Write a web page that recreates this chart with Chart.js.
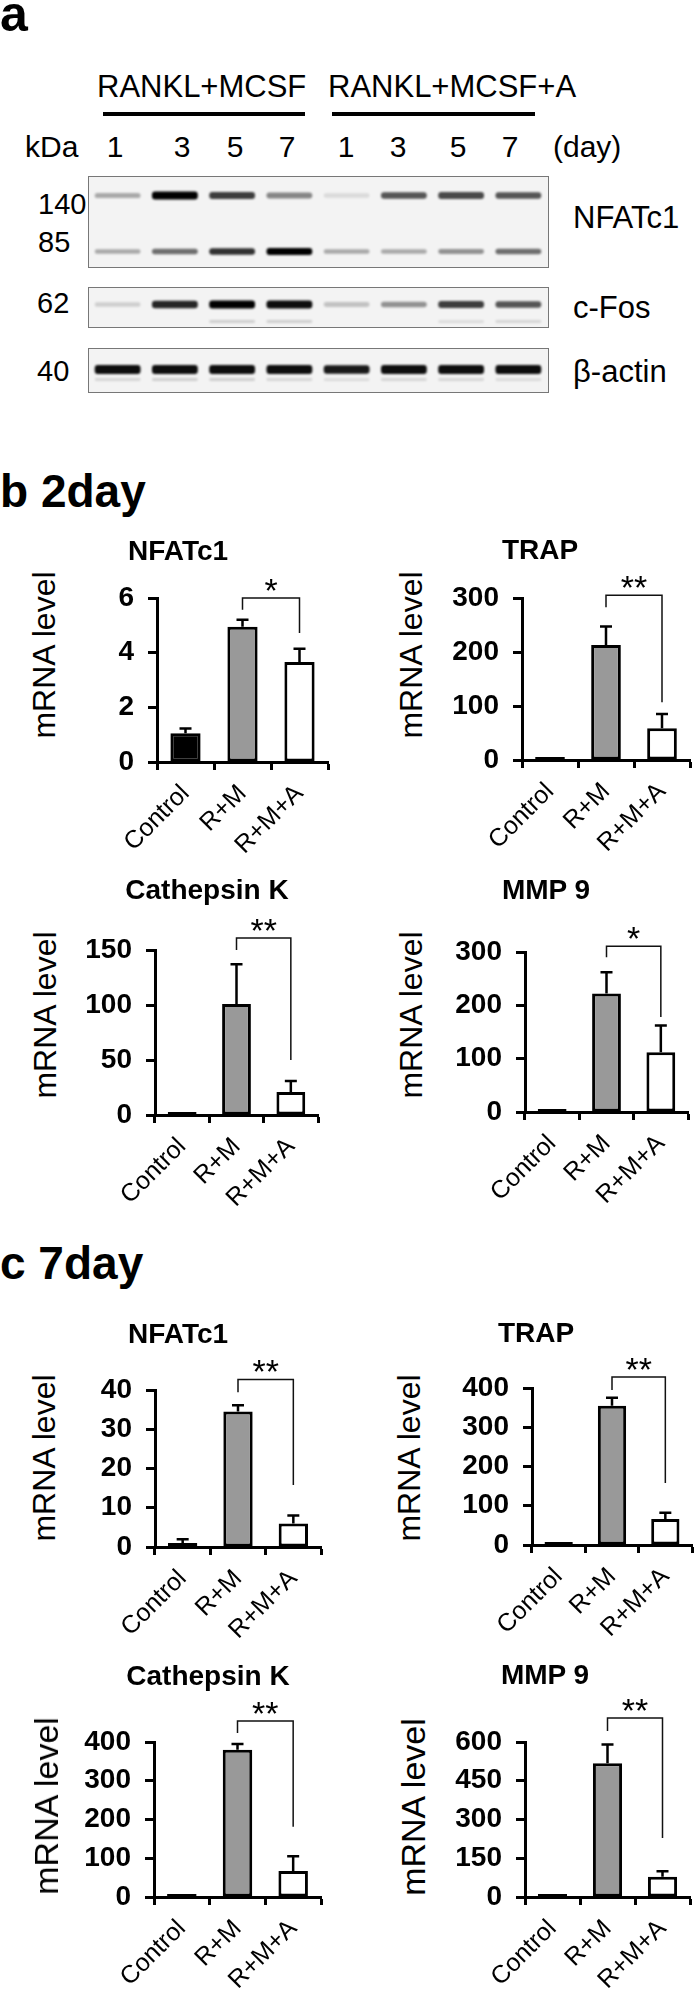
<!DOCTYPE html>
<html>
<head>
<meta charset="utf-8">
<script src="https://cdn.jsdelivr.net/npm/chart.js@4.4.0/dist/chart.umd.min.js"></script>
<style>
  body { margin: 0; background: #fff; }
  #fig { position: relative; width: 700px; height: 1991px; overflow: hidden;
         font-family: "Liberation Sans", Arial, sans-serif; color: #000; }
  .t { position: absolute; white-space: nowrap; line-height: 1; }
  .rule { position: absolute; background: #000; height: 4px; }
  .blot { position: absolute; left: 88px; width: 461px; border: 1.5px solid #777;
          background: #f3f3f3; box-sizing: border-box; overflow: hidden; }
  .blot canvas { position: absolute; left: 0; top: 0; }
  .ytitle { position: absolute; font-size: 32px; line-height: 1; white-space: nowrap;
            transform: translate(-50%, -50%) rotate(-90deg); }
  #fig > canvas { position: absolute; }
</style>
</head>
<body>
<div id="fig"></div>
<script>
// ---------- data ----------
// western blot: lanes (days) and band intensity 0..1
var lanes = ['1', '3', '5', '7', '1', '3', '5', '7'];
var nfat140 = [0.3, 1.0, 0.75, 0.45, 0.1, 0.65, 0.7, 0.65];
var nfat85 = [0.3, 0.55, 0.8, 1.0, 0.3, 0.3, 0.4, 0.55];
var cfos = [0.15, 0.85, 1.0, 0.95, 0.2, 0.4, 0.75, 0.65];
var cfosLow = [0, 0, 0.15, 0.15, 0, 0, 0.1, 0.12];
var actin = [0.95, 0.95, 0.95, 0.95, 0.9, 0.95, 0.95, 0.95];
var actinLow = [0.12, 0.15, 0.15, 0.12, 0.1, 0.12, 0.12, 0.1];

// qPCR bars
var groups = ['Control', 'R+M', 'R+M+A'];

var d2Nfatc1 = [1.05, 4.95, 3.66];
var d2Nfatc1Err = [0.18, 0.25, 0.48];
var d2Nfatc1Sig = [6.0, 5.57, 4.72];

var d2Trap = [1, 213, 59];
var d2TrapErr = [0, 34, 26];
var d2TrapSig = [305, 283, 107];

var d2Ctsk = [1, 101, 21];
var d2CtskErr = [0, 36, 10];
var d2CtskSig = [161, 150, 50];

var d2Mmp9 = [1, 222, 112];
var d2Mmp9Err = [0, 40, 50];
var d2Mmp9Sig = [311, 290, 178];

var d7Nfatc1 = [1.0, 34.5, 6.0];
var d7Nfatc1Err = [1.0, 1.6, 2.0];
var d7Nfatc1Sig = [42.7, 39.4, 15.8];

var d7Trap = [2, 355, 66];
var d7TrapErr = [0, 20, 16];
var d7TrapSig = [428, 395, 158];

var d7Ctsk = [2, 380, 67];
var d7CtskErr = [0, 15, 38];
var d7CtskSig = [454, 423, 181];

var d7Mmp9 = [2, 518, 78];
var d7Mmp9Err = [0, 72, 22];
var d7Mmp9Sig = [693, 643, 228];

// ---------- helpers ----------
var FONT = '"Liberation Sans", Arial, sans-serif';
var fig = document.getElementById('fig');

function addText(txt, x, base, size, bold, center) {
    var d = document.createElement('div');
    d.className = 't';
    d.textContent = txt;
    d.style.fontSize = size + 'px';
    if (bold) d.style.fontWeight = 'bold';
    d.style.top = (base - 0.847 * size) + 'px';
    d.style.left = x + 'px';
    if (center) d.style.transform = 'translateX(-50%)';
    fig.appendChild(d);
}

function addRule(x, y, w) {
    var d = document.createElement('div');
    d.className = 'rule';
    d.style.left = x + 'px';
    d.style.top = y + 'px';
    d.style.width = w + 'px';
    fig.appendChild(d);
}

function addYTitle(cx, cy, size) {
    var d = document.createElement('div');
    d.className = 'ytitle';
    d.textContent = 'mRNA level';
    d.style.left = cx + 'px';
    d.style.top = cy + 'px';
    if (size) d.style.fontSize = size + 'px';
    fig.appendChild(d);
}

// soft edges for blot bands
var blurBands = {
    id: 'blurBands',
    beforeDatasetsDraw: function(chart) {
        chart.ctx.save();
        chart.ctx.filter = 'blur(1.1px)';
    },
    afterDatasetsDraw: function(chart) {
        chart.ctx.restore();
    }
};

// one blot strip; bands = [{vals, pos, thick}] (pos in px from strip bottom)
function makeBlot(top, height, bands) {
    var box = document.createElement('div');
    box.className = 'blot';
    box.style.top = top + 'px';
    box.style.height = height + 'px';
    var cv = document.createElement('canvas');
    var w = 461 - 3, h = height - 3;
    cv.width = w; cv.height = h;
    box.appendChild(cv);
    fig.appendChild(box);

    var datasets = bands.map(function(b) {
        return {
            data: b.vals.map(function(v) {
                var t = b.thick * (0.5 + 0.5 * v);
                return [b.pos - t / 2, b.pos + t / 2];
            }),
            backgroundColor: b.vals.map(function(v) { return 'rgba(0,0,0,' + v + ')'; }),
            borderWidth: 0,
            borderRadius: 3,
            borderSkipped: false,
            grouped: false,
            barPercentage: 0.8,
            categoryPercentage: 1
        };
    });

    new Chart(cv, {
        type: 'bar',
        data: { labels: lanes, datasets: datasets },
        options: {
            responsive: false,
            animation: false,
            devicePixelRatio: 1,
            layout: { padding: 0 },
            plugins: { legend: { display: false }, tooltip: { enabled: false } },
            scales: {
                x: { display: false },
                y: { display: false, min: 0, max: h }
            }
        },
        plugins: [blurBands]
    });
}

// error bars (upward only)
var errorBars = {
    id: 'errorBars',
    afterDatasetsDraw: function(chart, args, opts) {
        var ctx = chart.ctx, y = chart.scales.y;
        var meta = chart.getDatasetMeta(0);
        var vals = chart.data.datasets[0].data;
        ctx.save();
        ctx.strokeStyle = '#000';
        ctx.lineWidth = 2.5;
        meta.data.forEach(function(bar, i) {
            var e = opts.errs[i];
            if (!e) return;
            var yTop = y.getPixelForValue(vals[i] + e);
            ctx.beginPath();
            ctx.moveTo(bar.x, bar.y);
            ctx.lineTo(bar.x, yTop);
            ctx.moveTo(bar.x - 6, yTop);
            ctx.lineTo(bar.x + 6, yTop);
            ctx.stroke();
        });
        ctx.restore();
    }
};

// significance bracket between R+M and R+M+A
var sigBracket = {
    id: 'sigBracket',
    afterDraw: function(chart, args, opts) {
        var ctx = chart.ctx, y = chart.scales.y;
        var meta = chart.getDatasetMeta(0);
        var x1 = meta.data[1].x, x2 = meta.data[2].x;
        var yT = y.getPixelForValue(opts.sig[0]);
        var yL = y.getPixelForValue(opts.sig[1]);
        var yR = y.getPixelForValue(opts.sig[2]);
        ctx.save();
        ctx.strokeStyle = '#111';
        ctx.lineWidth = 1.5;
        ctx.beginPath();
        ctx.moveTo(x1, yL);
        ctx.lineTo(x1, yT);
        ctx.lineTo(x2, yT);
        ctx.lineTo(x2, yR);
        ctx.stroke();
        ctx.fillStyle = '#000';
        ctx.font = '34px ' + FONT;
        ctx.textAlign = 'center';
        ctx.textBaseline = 'alphabetic';
        ctx.fillText(opts.label, (x1 + x2) / 2, yT + 4);
        ctx.restore();
    }
};

var PAD_TOP = 62, AXIS_W = 90, X_H = 120, PAD_R = 12;

function makeBarChart(c) {
    var cv = document.createElement('canvas');
    var w = c.right - c.left + AXIS_W + PAD_R;
    var h = c.bottom - c.top + PAD_TOP + X_H;
    cv.width = w; cv.height = h;
    cv.style.left = (c.left - AXIS_W) + 'px';
    cv.style.top = (c.top - PAD_TOP) + 'px';
    fig.appendChild(cv);

    new Chart(cv, {
        type: 'bar',
        data: {
            labels: groups,
            datasets: [{
                data: c.vals,
                backgroundColor: ['#000000', '#999999', '#ffffff'],
                borderColor: '#000',
                borderWidth: 3,
                borderSkipped: false,
                minBarLength: 3,
                barPercentage: 0.53,
                categoryPercentage: 1
            }]
        },
        options: {
            responsive: false,
            animation: false,
            devicePixelRatio: 1,
            layout: { padding: { top: PAD_TOP, right: PAD_R, left: 0, bottom: 0 } },
            plugins: {
                legend: { display: false },
                tooltip: { enabled: false },
                errorBars: { errs: c.errs },
                sigBracket: { sig: c.sig, label: c.label }
            },
            scales: {
                x: {
                    offset: true,
                    grid: { offset: true, drawOnChartArea: false, tickLength: 8, tickWidth: 3, tickColor: '#000' },
                    border: { display: true, width: 3, color: '#000' },
                    ticks: { autoSkip: false, minRotation: 45, maxRotation: 45, padding: 9,
                             color: '#000', font: { size: 25, family: FONT } },
                    afterFit: function(s) { s.height = X_H; }
                },
                y: {
                    min: 0,
                    max: c.max,
                    grid: { drawOnChartArea: false, tickLength: 9, tickWidth: 3, tickColor: '#000' },
                    border: { display: true, width: 3, color: '#000' },
                    ticks: { stepSize: c.step, padding: 14, color: '#000',
                             font: { size: 28, weight: 'bold', family: FONT } },
                    afterFit: function(s) { s.width = AXIS_W; }
                }
            }
        },
        plugins: [errorBars, sigBracket]
    });

    addText(c.title, c.titleX, c.titleY + 10, 28, true, true);
    addYTitle(c.yTitleX, c.yTitleY, c.yTitleSize);
}

// ---------- panel a ----------
addText('a', 0, 31, 50, true);
addText('RANKL+MCSF', 97, 97, 31);
addText('RANKL+MCSF+A', 328, 97, 31);
addRule(103, 112, 202);
addRule(332, 112, 203);
addText('kDa', 25, 157, 30);
var laneX = [115, 182, 235, 287, 346, 398, 458, 510];
lanes.forEach(function(l, i) { addText(l, laneX[i], 157, 30, false, true); });
addText('(day)', 553, 157, 30);
addText('140', 38, 215, 29);
addText('85', 38, 253, 29);
addText('62', 37, 314, 29);
addText('40', 37, 382, 29);
addText('NFATc1', 573, 228, 31);
addText('c-Fos', 573, 318, 31);
addText('\u03B2-actin', 573, 382, 31);

makeBlot(176, 92, [
    { vals: nfat140, pos: 70.5, thick: 8 },
    { vals: nfat85, pos: 14.5, thick: 7 }
]);
makeBlot(287, 41, [
    { vals: cfos, pos: 21.5, thick: 8 },
    { vals: cfosLow, pos: 4.5, thick: 5 }
]);
makeBlot(348, 45, [
    { vals: actin, pos: 21.5, thick: 9 },
    { vals: actinLow, pos: 11.5, thick: 5 }
]);

// ---------- panels b, c ----------
addText('b 2day', 0, 507, 46, true);
addText('c 7day', 0, 1279, 46, true);

var charts = [
    { title: 'NFATc1', titleX: 178, titleY: 551, yTitleX: 44, yTitleY: 655,
      left: 157, right: 328, top: 598, bottom: 762, max: 6, step: 2,
      vals: d2Nfatc1, errs: d2Nfatc1Err, sig: d2Nfatc1Sig, label: '*' },
    { title: 'TRAP', titleX: 540, titleY: 550, yTitleX: 411, yTitleY: 655,
      left: 522, right: 690, top: 598, bottom: 760, max: 300, step: 100,
      vals: d2Trap, errs: d2TrapErr, sig: d2TrapSig, label: '**' },
    { title: 'Cathepsin K', titleX: 207, titleY: 890, yTitleX: 45, yTitleY: 1015,
      left: 155, right: 318, top: 950, bottom: 1115, max: 150, step: 50,
      vals: d2Ctsk, errs: d2CtskErr, sig: d2CtskSig, label: '**' },
    { title: 'MMP 9', titleX: 546, titleY: 890, yTitleX: 411, yTitleY: 1015,
      left: 525, right: 688, top: 952, bottom: 1112, max: 300, step: 100,
      vals: d2Mmp9, errs: d2Mmp9Err, sig: d2Mmp9Sig, label: '*' },
    { title: 'NFATc1', titleX: 178, titleY: 1334, yTitleX: 44, yTitleY: 1458,
      left: 155, right: 321, top: 1390, bottom: 1547, max: 40, step: 10,
      vals: d7Nfatc1, errs: d7Nfatc1Err, sig: d7Nfatc1Sig, label: '**' },
    { title: 'TRAP', titleX: 536, titleY: 1333, yTitleX: 409, yTitleY: 1458,
      left: 532, right: 692, top: 1388, bottom: 1545, max: 400, step: 100,
      vals: d7Trap, errs: d7TrapErr, sig: d7TrapSig, label: '**' },
    { title: 'Cathepsin K', titleX: 208, titleY: 1676, yTitleX: 46, yTitleY: 1806, yTitleSize: 34,
      left: 154, right: 321, top: 1742, bottom: 1897, max: 400, step: 100,
      vals: d7Ctsk, errs: d7CtskErr, sig: d7CtskSig, label: '**' },
    { title: 'MMP 9', titleX: 545, titleY: 1675, yTitleX: 413, yTitleY: 1807, yTitleSize: 34,
      left: 525, right: 690, top: 1742, bottom: 1897, max: 600, step: 150,
      vals: d7Mmp9, errs: d7Mmp9Err, sig: d7Mmp9Sig, label: '**' }
];

charts.forEach(makeBarChart);
</script>
</body>
</html>
